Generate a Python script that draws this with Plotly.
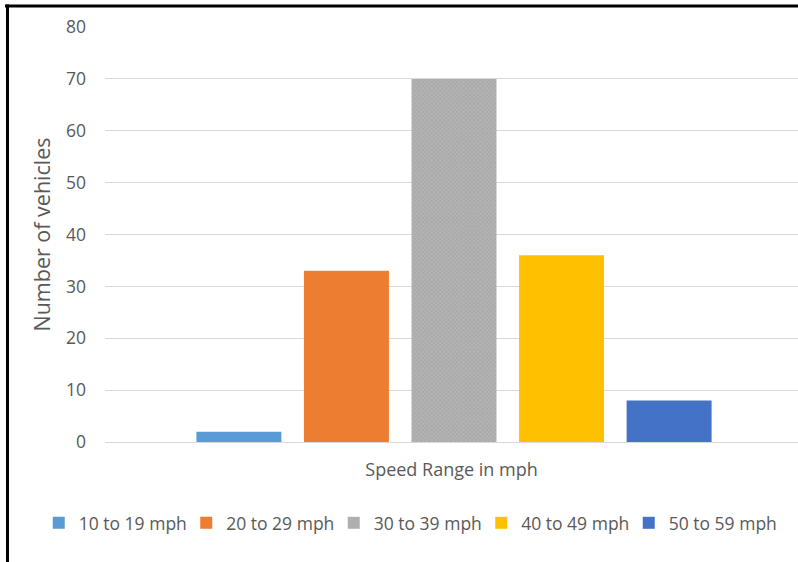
import plotly.graph_objects as go

# Vehicle counts per speed band
category = ["Speed Range in mph"]
series_names = ["10 to 19 mph", "20 to 29 mph", "30 to 39 mph", "40 to 49 mph", "50 to 59 mph"]
series_values = [2, 33, 70, 36, 8]
series_colors = ["#5B9BD5", "#ED7D31", "#A5A5A5", "#FFC000", "#4472C4"]
y_ticks = [0, 10, 20, 30, 40, 50, 60, 70, 80]

FONT = "Open Sans"
TEXT_COLOR = "#595959"

fig = go.Figure()
for name, val, col in zip(series_names, series_values, series_colors):
    marker = dict(color=col, line=dict(width=0))
    if name == "30 to 39 mph":
        # fine stipple texture on the middle band
        marker["pattern"] = dict(shape="x", size=3, solidity=0.35,
                                 fgcolor="#8f8f8f", bgcolor="#b3b3b3")
    fig.add_trace(go.Bar(x=[0], y=[val], name=name, marker=marker))

fig.update_layout(
    width=798, height=562,
    margin=dict(l=105, r=0, t=27, b=120),
    paper_bgcolor="white", plot_bgcolor="white",
    barmode="group", bargap=0.224, bargroupgap=0.21,
    font=dict(family=FONT, color=TEXT_COLOR, size=15),
    showlegend=True,
    legend=dict(orientation="h", x=-0.0956, xanchor="left", y=-0.195, yanchor="middle",
                font=dict(size=17.5, color=TEXT_COLOR, family=FONT),
                entrywidth=102.5, entrywidthmode="pixels", itemwidth=30,
                traceorder="normal"),
    xaxis=dict(range=[-0.5036, 0.4964], showticklabels=False, showgrid=False,
               zeroline=False, showline=False, ticks="",
               title=dict(text=category[0], standoff=21,
                          font=dict(size=18, color=TEXT_COLOR, family=FONT))),
    yaxis=dict(range=[0, 80], tickvals=y_ticks, showgrid=True, gridcolor="#D9D9D9",
               gridwidth=1, zeroline=True, zerolinecolor="#D9D9D9", zerolinewidth=1,
               showline=False, ticks="", ticklabelstandoff=18,
               tickfont=dict(size=17.5, color=TEXT_COLOR, family=FONT),
               title=dict(text="Number of vehicles", standoff=9,
                          font=dict(size=21.5, color=TEXT_COLOR, family=FONT))),
    shapes=[
        dict(type="line", xref="paper", yref="paper", x0=-0.1443, x1=1.0,
             y0=1.0506, y1=1.0506, line=dict(color="black", width=3)),
        dict(type="line", xref="paper", yref="paper", x0=-0.1407, x1=-0.1407,
             y0=1.054, y1=-0.3, line=dict(color="black", width=3)),
    ],
)

fig.write_html("out.html")
